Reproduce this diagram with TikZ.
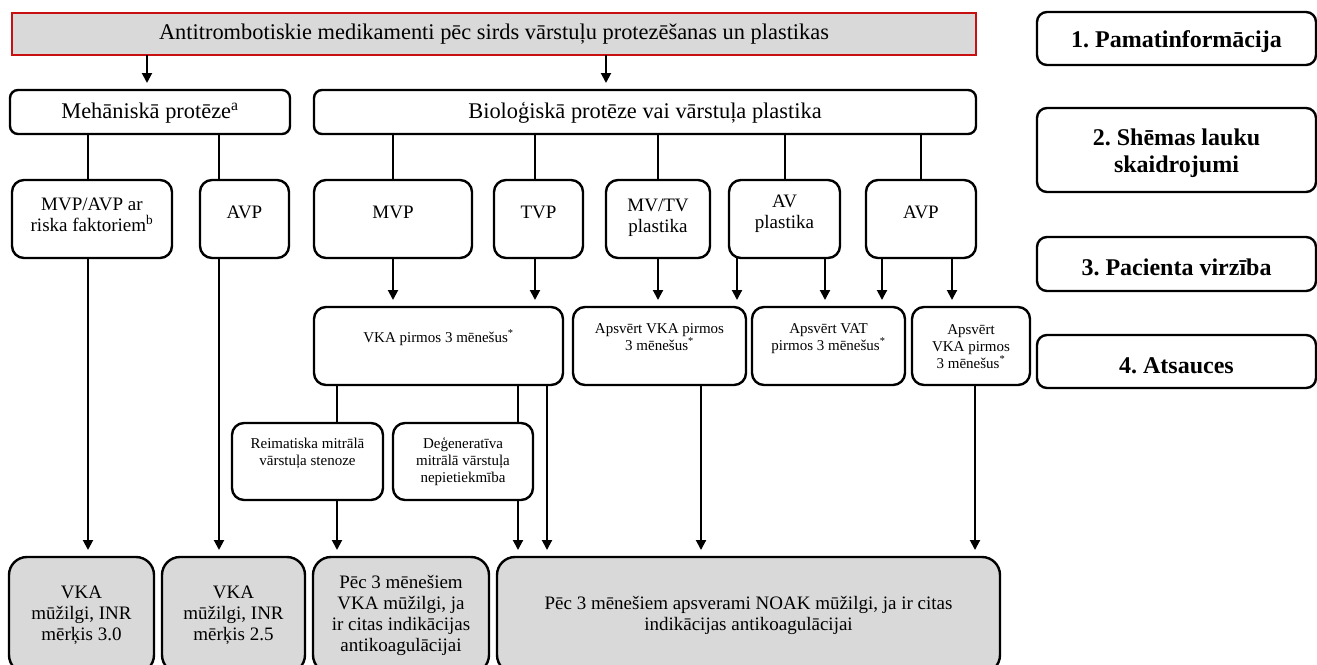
\documentclass[tikz,border=0pt]{standalone}
\usepackage{fontspec}
\setmainfont{Liberation Serif}
\usetikzlibrary{positioning,arrows.meta}
\definecolor{boxgray}{RGB}{217,217,217}
\definecolor{titlered}{RGB}{200,16,16}

\begin{document}
\begin{tikzpicture}[x=1pt,y=-1pt,line width=2pt,
    >={Triangle[length=10pt,width=10pt]},
    box/.style={draw,line width=2.4pt,rounded corners=10pt,inner sep=0pt,
      outer sep=0pt,align=flush center,anchor=north west},
    headbox/.style={box,draw=titlered,fill=boxgray,sharp corners,
      font=\fontsize{22.4}{26}\selectfont,minimum height=42pt},
    lvltwo/.style={box,rounded corners=8pt,font=\fontsize{22.4}{26}\selectfont,
      text height=28pt,text depth=16pt},
    lvlthree/.style={box,rounded corners=12pt,font=\fontsize{19}{21}\selectfont,
      text height=30pt,text depth=48pt},
    lvlfour/.style={box,rounded corners=12pt,font=\fontsize{15}{17}\selectfont,
      text height=26pt,text depth=52pt},
    oneline/.style={text height=38pt,text depth=40pt},
    result/.style={box,fill=boxgray,rounded corners=18pt,
      font=\fontsize{19}{21}\selectfont,minimum height=116pt},
    navbox/.style={box,font=\fontsize{24}{27}\selectfont\bfseries\frenchspacing,
      text width=279pt,execute at begin node={\rule{0pt}{24pt}}},
    flow/.style={->,shorten >=7pt}]
  \useasboundingbox (0,0) rectangle (1317,664);
  \clip (0,0) rectangle (1317,664);

  \node[headbox,text width=964pt] (title) at (12,13)
    {Antitrombotiskie medikamenti pēc sirds vārstuļu protezēšanas un plastikas};

  \node[lvltwo,text width=280pt] (mech) at (10,90) {Mehāniskā protēze\textsuperscript{a}};
  \node[lvltwo,text width=662pt,right=24pt of mech] (bio) {Bioloģiskā protēze vai vārstuļa plastika};

  \node[lvlthree,text width=160pt] (mvpavp) at (12,180) {MVP/AVP ar\\riska faktoriem\textsuperscript{b}};
  \node[lvlthree,oneline,text width=89pt,right=28pt of mvpavp] (avpm) {AVP};
  \node[lvlthree,oneline,text width=158pt,right=25pt of avpm] (mvp) {MVP};
  \node[lvlthree,oneline,text width=89pt,right=22pt of mvp] (tvp) {TVP};
  \node[lvlthree,text height=31pt,text depth=47pt,text width=104pt,right=23pt of tvp] (mvtv) {MV/TV\\plastika};
  \node[lvlthree,text height=27pt,text depth=51pt,text width=111pt,right=19pt of mvtv] (avpl) {AV\\plastika};
  \node[lvlthree,oneline,text width=110pt,right=26pt of avpl] (avpb) {AVP};

  \node[lvlfour,text height=35pt,text depth=43pt,text width=249pt] (vka) at (314,307)
    {VKA pirmos 3 mēnešus\textsuperscript{*}};
  \node[lvlfour,text width=173pt,right=10pt of vka] (apsA) {Apsvērt VKA pirmos\\3 mēnešus\textsuperscript{*}};
  \node[lvlfour,text width=153pt,right=6pt of apsA] (apsB) {Apsvērt VAT\\pirmos 3 mēnešus\textsuperscript{*}};
  \node[lvlfour,text height=27pt,text depth=51pt,text width=118pt,right=7pt of apsB] (apsC)
    {Apsvērt\\VKA pirmos\\3 mēnešus\textsuperscript{*}};

  \node[lvlfour,text height=25pt,text depth=52pt,text width=151pt] (reim) at (232,423)
    {Reimatiska mitrālā\\vārstuļa stenoze};
  \node[lvlfour,text height=25pt,text depth=52pt,text width=140pt,right=10pt of reim] (degen)
    {Deģeneratīva\\mitrālā vārstuļa\\nepietiekmība};

  \node[result,text width=145pt] (vkaA) at (9,557) {VKA\\mūžilgi, INR\\mērķis 3.0};
  \node[result,text width=143pt,right=8pt of vkaA] (vkaB) {VKA\\mūžilgi, INR\\mērķis 2.5};
  \node[result,text width=176pt,right=8pt of vkaB] (pec)
    {Pēc 3 mēnešiem\\VKA mūžilgi, ja\\ir citas indikācijas\\antikoagulācijai};
  \node[result,text width=503pt,right=8pt of pec] (noak)
    {Pēc 3 mēnešiem apsverami NOAK mūžilgi, ja ir citas\\indikācijas antikoagulācijai};

  \node[navbox,minimum height=53pt] (nav1) at (1037,12) {1. Pamatinformācija};
  \node[navbox,minimum height=84pt,below=43pt of nav1] (nav2) {2. Shēmas lauku\\skaidrojumi};
  \node[navbox,minimum height=54pt,below=45pt of nav2] (nav3) {3. Pacienta virzība};
  \node[navbox,minimum height=53pt,below=44pt of nav3] (nav4) {4. Atsauces};

  % plain branch lines
  \path
    ([xshift=-4pt]mvpavp.north |- mech.south) edge ([xshift=-4pt]mvpavp.north)
    ([xshift=-25.5pt]avpm.north |- mech.south) edge ([xshift=-25.5pt]avpm.north)
    (mvp.north |- bio.south) edge (mvp.north)
    ([xshift=-3.5pt]tvp.north |- bio.south) edge ([xshift=-3.5pt]tvp.north)
    (mvtv.north |- bio.south) edge (mvtv.north)
    (avpl.north |- bio.south) edge (avpl.north)
    (avpb.north |- bio.south) edge (avpb.north)
    ([xshift=29.5pt]reim.north |- vka.south) edge ([xshift=29.5pt]reim.north)
    ([xshift=55pt]degen.north |- vka.south) edge ([xshift=55pt]degen.north);

  % arrows
  \path[flow]
    ([xshift=-3pt]mech.north |- title.south) edge ([xshift=-3pt]mech.north)
    ([xshift=-39pt]bio.north |- title.south) edge ([xshift=-39pt]bio.north)
    (mvp.south) edge (mvp.south |- vka.north)
    ([xshift=-3.5pt]tvp.south) edge ([xshift=-3.5pt]tvp.south |- vka.north)
    (mvtv.south) edge (mvtv.south |- apsA.north)
    ([xshift=-47.5pt]avpl.south) edge ([xshift=-47.5pt]avpl.south |- apsA.north)
    ([xshift=40.5pt]avpl.south) edge ([xshift=40.5pt]avpl.south |- apsB.north)
    ([xshift=-39pt]avpb.south) edge ([xshift=-39pt]avpb.south |- apsB.north)
    ([xshift=31pt]avpb.south) edge ([xshift=31pt]avpb.south |- apsC.north)
    ([xshift=-4pt]mvpavp.south) edge ([xshift=-4pt]mvpavp.south |- vkaA.north)
    ([xshift=-25.5pt]avpm.south) edge ([xshift=-25.5pt]avpm.south |- vkaB.north)
    ([xshift=29.5pt]reim.south) edge ([xshift=29.5pt]reim.south |- pec.north)
    ([xshift=55pt]degen.south) edge ([xshift=55pt]degen.south |- noak.north)
    ([xshift=108.5pt]vka.south) edge ([xshift=108.5pt]vka.south |- noak.north)
    ([xshift=41.5pt]apsA.south) edge ([xshift=41.5pt]apsA.south |- noak.north)
    ([xshift=4pt]apsC.south) edge ([xshift=4pt]apsC.south |- noak.north);
\end{tikzpicture}
\end{document}
